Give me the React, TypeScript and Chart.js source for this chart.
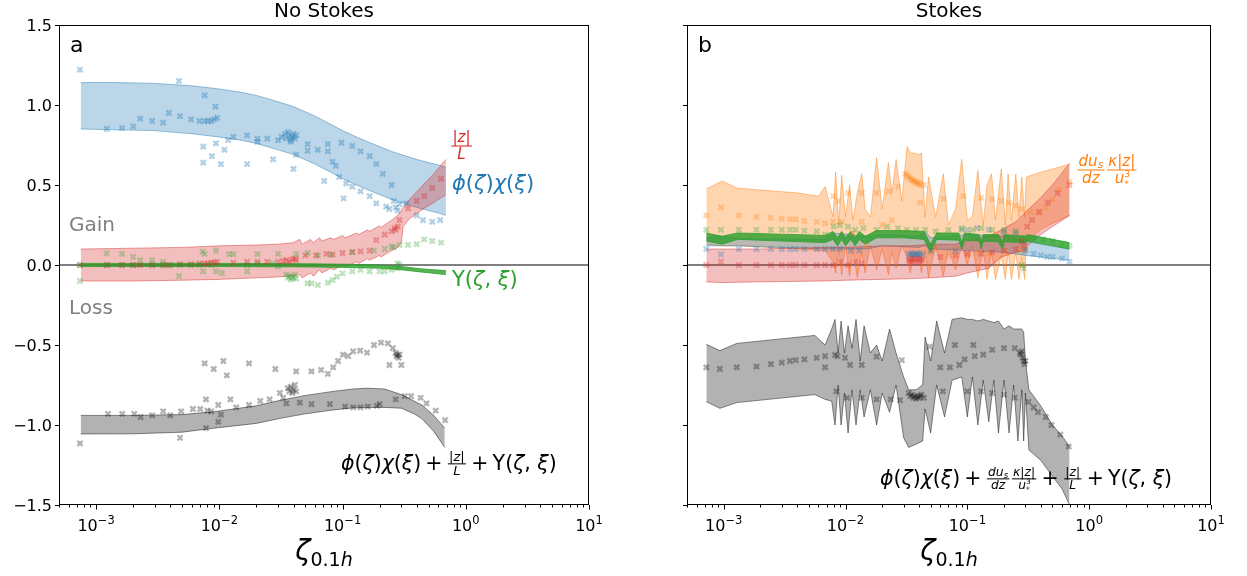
import React, { useEffect, useRef } from "react";
import { Chart, registerables } from "chart.js";
Chart.register(...registerables);

type Pt = [number, number];
type Bd = [number, number, number]; // x, lower, upper

// ---------------- axes ----------------
const xMin = 5e-4;
const xMax = 10;
const yMin = -1.5;
const yMax = 1.5;
const yTickVals = [-1.5, -1.0, -0.5, 0.0, 0.5, 1.0, 1.5];
const yTickText = ["−1.5", "−1.0", "−0.5", "0.0", "0.5", "1.0", "1.5"];
const xTickExp = [-3, -2, -1, 0, 1];
const xTickSup = ["−3", "−2", "−1", "0", "1"];
const panelTitles = ["No Stokes", "Stokes"];
const panelLetters = ["a", "b"];

// ---------------- panel a: bands ----------------
const aBlueBand: Bd[] = [
  [7.5e-4, 0.85, 1.14], [1.5e-3, 0.845, 1.14], [3e-3, 0.84, 1.135], [6e-3, 0.82, 1.12],
  [0.01, 0.8, 1.1], [0.015, 0.78, 1.08], [0.02, 0.76, 1.06], [0.03, 0.72, 1.02],
  [0.04, 0.69, 0.99], [0.06, 0.63, 0.93], [0.08, 0.58, 0.88], [0.1, 0.54, 0.84],
  [0.13, 0.5, 0.8], [0.16, 0.47, 0.77], [0.2, 0.44, 0.74], [0.25, 0.41, 0.71],
  [0.3, 0.39, 0.69], [0.4, 0.36, 0.66], [0.5, 0.34, 0.64], [0.6, 0.325, 0.625], [0.69, 0.31, 0.61],
];
const aRedBand: Bd[] = [
  [7.5e-4, -0.1, 0.1], [2e-3, -0.1, 0.105], [5e-3, -0.095, 0.11], [0.01, -0.09, 0.12],
  [0.02, -0.08, 0.125], [0.03, -0.075, 0.13], [0.04, -0.065, 0.14], [0.045, -0.06, 0.16],
  [0.047, -0.08, 0.13], [0.055, -0.05, 0.16], [0.058, -0.07, 0.14], [0.065, -0.03, 0.17],
  [0.068, -0.05, 0.15], [0.08, -0.02, 0.17], [0.085, -0.03, 0.16], [0.1, 0.0, 0.185],
  [0.105, -0.01, 0.17], [0.13, 0.02, 0.2], [0.135, 0.01, 0.19], [0.16, 0.04, 0.22],
  [0.165, 0.03, 0.21], [0.2, 0.06, 0.245], [0.205, 0.05, 0.235], [0.25, 0.09, 0.28],
  [0.28, 0.11, 0.31], [0.3, 0.14, 0.34], [0.31, 0.24, 0.36], [0.35, 0.29, 0.41],
  [0.45, 0.35, 0.5], [0.55, 0.39, 0.57], [0.69, 0.44, 0.66],
];
const aGreenBand: Bd[] = [
  [7.5e-4, -0.01, 0.01], [0.01, -0.01, 0.01], [0.05, -0.012, 0.008], [0.1, -0.015, 0.005],
  [0.2, -0.02, 0.0], [0.3, -0.03, -0.01], [0.45, -0.045, -0.025], [0.69, -0.06, -0.035],
];
const aGrayBand: Bd[] = [
  [7.5e-4, -1.056, -0.94], [2e-3, -1.055, -0.94], [5e-3, -1.045, -0.935], [0.009, -1.02, -0.917],
  [0.02, -0.99, -0.88], [0.032, -0.957, -0.844], [0.05, -0.93, -0.815], [0.084, -0.906, -0.79],
  [0.12, -0.893, -0.775], [0.158, -0.89, -0.77], [0.22, -0.89, -0.775], [0.3, -0.895, -0.81],
  [0.38, -0.93, -0.85], [0.44, -0.96, -0.875], [0.55, -1.04, -0.94], [0.675, -1.14, -1.02],
];

// ---------------- panel a: points ----------------
const aBluePts: Pt[] = [
  [7.4e-4, 1.22], [1.22e-3, 0.85], [1.62e-3, 0.856], [2.0e-3, 0.867], [2.28e-3, 0.915], [2.85e-3, 0.9],
  [3.5e-3, 0.89], [3.9e-3, 0.95], [4.7e-3, 1.15], [4.8e-3, 0.93], [5.9e-3, 0.91], [6.9e-3, 0.9],
  [7.4e-3, 0.74], [7.4e-3, 0.64], [7.6e-3, 1.06], [7.6e-3, 0.9], [8.1e-3, 0.9], [8.6e-3, 0.9],
  [9.1e-3, 0.91], [9.6e-3, 0.92], [9.3e-3, 0.99], [8.7e-3, 0.68], [9.4e-3, 0.76], [0.0103, 0.63],
  [0.011, 0.72], [0.0118, 0.78], [0.013, 0.8], [0.0168, 0.81], [0.0168, 0.63], [0.0204, 0.79],
  [0.0204, 0.77], [0.0245, 0.79], [0.0273, 0.66], [0.03, 0.78], [0.032, 0.8], [0.034, 0.82],
  [0.035, 0.79], [0.036, 0.83], [0.037, 0.81], [0.038, 0.78], [0.039, 0.8], [0.04, 0.82],
  [0.041, 0.79], [0.042, 0.81], [0.038, 0.77], [0.04, 0.6], [0.042, 0.69], [0.052, 0.756],
  [0.052, 0.714], [0.063, 0.72], [0.071, 0.525], [0.076, 0.756], [0.076, 0.71], [0.083, 0.646],
  [0.088, 0.62], [0.094, 0.55], [0.098, 0.764], [0.102, 0.417], [0.107, 0.51], [0.12, 0.744],
  [0.12, 0.49], [0.14, 0.71], [0.14, 0.46], [0.166, 0.68], [0.166, 0.43], [0.188, 0.63],
  [0.188, 0.385], [0.212, 0.57], [0.226, 0.365], [0.25, 0.5], [0.24, 0.35], [0.26, 0.4],
  [0.27, 0.36], [0.28, 0.34], [0.29, 0.38], [0.33, 0.385], [0.4, 0.31], [0.45, 0.28],
  [0.535, 0.27], [0.62, 0.28],
];
const aRedPts: Pt[] = [
  [7.4e-4, 0.0], [1.22e-3, 0.0], [1.62e-3, 0.0], [2.0e-3, 0.0], [2.28e-3, 0.0], [2.85e-3, 0.0],
  [3.5e-3, 0.0], [3.9e-3, 0.0], [4.8e-3, 0.005], [5.9e-3, 0.005], [6.9e-3, 0.01], [7.6e-3, 0.01],
  [8.1e-3, 0.01], [8.6e-3, 0.015], [9.1e-3, 0.015], [9.6e-3, 0.02], [0.013, 0.015], [0.0168, 0.02],
  [0.0204, 0.02], [0.0245, 0.02], [0.03, 0.02], [0.033, 0.025], [0.035, 0.03], [0.037, 0.02],
  [0.039, 0.035], [0.041, 0.04], [0.042, 0.03], [0.05, 0.06], [0.061, 0.06], [0.074, 0.07],
  [0.083, 0.065], [0.1, 0.075], [0.12, 0.08], [0.14, 0.085], [0.166, 0.09], [0.188, 0.156],
  [0.22, 0.19], [0.25, 0.21], [0.264, 0.23], [0.27, 0.22], [0.28, 0.24], [0.29, 0.28],
  [0.34, 0.354], [0.4, 0.4], [0.46, 0.43], [0.535, 0.48], [0.63, 0.54],
];
const aGreenPts: Pt[] = [
  [7.4e-4, -0.1], [7.4e-4, 0.0], [1.22e-3, 0.073], [1.22e-3, 0.0], [1.62e-3, 0.07], [1.62e-3, 0.0],
  [2.0e-3, 0.05], [2.0e-3, 0.0], [2.28e-3, 0.03], [2.85e-3, 0.03], [2.85e-3, 0.0], [3.5e-3, 0.02],
  [3.5e-3, 0.0], [4.0e-3, 0.0], [4.7e-3, -0.07], [4.8e-3, 0.0], [5.9e-3, 0.0], [6.9e-3, 0.0],
  [7.3e-3, 0.083], [7.4e-3, -0.04], [7.6e-3, 0.07], [8.6e-3, 0.0], [9.4e-3, 0.09], [9.4e-3, -0.04],
  [0.0105, -0.05], [0.012, 0.068], [0.013, 0.068], [0.0168, -0.04], [0.0168, 0.0], [0.0204, 0.068],
  [0.0204, 0.01], [0.027, 0.01], [0.03, 0.07], [0.03, -0.01], [0.035, -0.06], [0.036, -0.08],
  [0.037, -0.07], [0.038, -0.09], [0.039, -0.075], [0.04, -0.08], [0.041, -0.06], [0.042, -0.085],
  [0.042, 0.068], [0.052, 0.075], [0.052, -0.115], [0.056, -0.115], [0.063, -0.125], [0.063, 0.06],
  [0.076, -0.11], [0.08, 0.065], [0.083, -0.094], [0.09, -0.073], [0.1, -0.052], [0.12, -0.04],
  [0.12, 0.08], [0.14, -0.03], [0.166, -0.04], [0.18, 0.09], [0.2, -0.04], [0.22, -0.04],
  [0.22, 0.1], [0.25, -0.03], [0.25, 0.115], [0.26, 0.11], [0.28, 0.01], [0.28, -0.02],
  [0.29, 0.0], [0.29, 0.125], [0.34, 0.125], [0.4, 0.13], [0.46, 0.16], [0.535, 0.15], [0.63, 0.14],
];
const aBlackPts: Pt[] = [
  [7.4e-4, -1.115], [1.25e-3, -0.93], [1.63e-3, -0.93], [2.04e-3, -0.93], [2.3e-3, -0.95], [2.85e-3, -0.94],
  [3.5e-3, -0.915], [4.0e-3, -0.94], [4.8e-3, -1.08], [4.9e-3, -0.915], [6.1e-3, -0.9], [7.0e-3, -0.9],
  [7.6e-3, -0.615], [7.8e-3, -0.84], [7.8e-3, -1.02], [8.0e-3, -0.91], [8.6e-3, -0.915], [9.0e-3, -0.65],
  [9.8e-3, -0.98], [9.8e-3, -0.875], [0.0103, -0.935], [0.0108, -0.6], [0.0115, -0.69], [0.0123, -0.84],
  [0.0137, -0.89], [0.0174, -0.615], [0.0174, -0.875], [0.0215, -0.85], [0.0256, -0.84], [0.0285, -0.65],
  [0.031, -0.8], [0.033, -0.83], [0.035, -0.865], [0.036, -0.77], [0.037, -0.79], [0.038, -0.76],
  [0.039, -0.8], [0.04, -0.78], [0.041, -0.75], [0.042, -0.79], [0.042, -0.665], [0.045, -0.86],
  [0.056, -0.665], [0.056, -0.87], [0.067, -0.656], [0.076, -0.68], [0.079, -0.87], [0.084, -0.64],
  [0.092, -0.6], [0.101, -0.56], [0.105, -0.885], [0.111, -0.57], [0.122, -0.54], [0.139, -0.535],
  [0.158, -0.548], [0.122, -0.89], [0.14, -0.89], [0.16, -0.885], [0.19, -0.88], [0.18, -0.5],
  [0.205, -0.485], [0.233, -0.49], [0.256, -0.52], [0.2, -0.87], [0.27, -0.84], [0.279, -0.56],
  [0.27, -0.55], [0.275, -0.57], [0.285, -0.58], [0.29, -0.56], [0.24, -0.625], [0.3, -0.625],
  [0.32, -0.82], [0.36, -0.82], [0.43, -0.83], [0.48, -0.865], [0.57, -0.91], [0.68, -0.97],
];

// ---------------- panel b: bands ----------------
const bOrangeBand: Bd[] = [
  [7.2e-4, 0.13, 0.475], [9.7e-4, 0.12, 0.525], [1.3e-3, 0.12, 0.48], [4.1e-3, 0.1, 0.45],
  [6.0e-3, 0.09, 0.43], [6.8e-3, 0.09, 0.49], [7.9e-3, 0.02, 0.3], [8.3e-3, -0.05, 0.58],
  [8.8e-3, 0.1, 0.25], [9.3e-3, -0.06, 0.56], [0.01, 0.12, 0.3], [0.0108, -0.07, 0.5],
  [0.0115, 0.1, 0.28], [0.0125, -0.08, 0.45], [0.0136, 0.08, 0.57], [0.0145, -0.05, 0.35],
  [0.016, 0.12, 0.3], [0.018, -0.03, 0.67], [0.02, 0.1, 0.35], [0.0225, -0.06, 0.64],
  [0.024, 0.08, 0.45], [0.026, -0.02, 0.66], [0.029, 0.12, 0.4], [0.032, 0.05, 0.74],
  [0.034, -0.05, 0.7], [0.036, 0.05, 0.7], [0.04, 0.06, 0.69], [0.042, -0.05, 0.7],
  [0.045, 0.1, 0.3], [0.048, -0.08, 0.55], [0.055, 0.12, 0.3], [0.0635, -0.07, 0.57],
  [0.07, 0.1, 0.25], [0.08, -0.03, 0.35], [0.09, 0.12, 0.66], [0.1, 0.0, 0.28],
  [0.11, 0.12, 0.3], [0.122, -0.08, 0.59], [0.135, 0.1, 0.25], [0.145, -0.09, 0.5],
  [0.158, 0.08, 0.57], [0.17, -0.09, 0.28], [0.19, 0.06, 0.6], [0.205, -0.09, 0.25],
  [0.216, 0.08, 0.57], [0.23, -0.09, 0.28], [0.25, 0.08, 0.57], [0.265, -0.09, 0.3],
  [0.28, 0.05, 0.55], [0.295, -0.09, 0.3], [0.305, 0.15, 0.55], [0.4, 0.22, 0.58],
  [0.5, 0.26, 0.6], [0.69, 0.31, 0.63],
];
const bBlueBand: Bd[] = [
  [7.2e-4, 0.12, 0.17], [9.7e-4, 0.12, 0.18], [1.3e-3, 0.12, 0.165], [6.8e-3, 0.1, 0.16],
  [0.008, 0.1, 0.2], [0.015, 0.1, 0.18], [0.02, 0.12, 0.19], [0.04, 0.11, 0.18],
  [0.045, 0.12, 0.21], [0.05, 0.1, 0.17], [0.1, 0.09, 0.19], [0.2, 0.08, 0.18],
  [0.3, 0.06, 0.15], [0.4, 0.05, 0.13], [0.69, 0.03, 0.1],
];
const bRedBand: Bd[] = [
  [7.2e-4, -0.105, 0.1], [9.7e-4, -0.11, 0.1], [2e-3, -0.105, 0.1], [6.8e-3, -0.1, 0.11],
  [0.01, -0.095, 0.11], [0.02, -0.09, 0.12], [0.035, -0.085, 0.12], [0.05, -0.08, 0.13],
  [0.08, -0.07, 0.13], [0.1, -0.05, 0.15], [0.15, -0.02, 0.18], [0.19, 0.05, 0.22],
  [0.25, 0.08, 0.27], [0.3, 0.09, 0.33], [0.31, 0.12, 0.34], [0.4, 0.19, 0.42],
  [0.5, 0.24, 0.5], [0.69, 0.31, 0.635],
];
const bGreenBand: Bd[] = [
  [7.2e-4, 0.15, 0.2], [9.7e-4, 0.13, 0.18], [1.3e-3, 0.16, 0.2], [6.8e-3, 0.14, 0.185],
  [7.9e-3, 0.16, 0.21], [8.6e-3, 0.12, 0.17], [9.3e-3, 0.16, 0.21], [0.01, 0.12, 0.17],
  [0.011, 0.16, 0.21], [0.012, 0.12, 0.17], [0.013, 0.16, 0.21], [0.0145, 0.13, 0.18],
  [0.018, 0.17, 0.215], [0.03, 0.17, 0.215], [0.044, 0.16, 0.21], [0.05, 0.08, 0.13],
  [0.056, 0.16, 0.2], [0.085, 0.155, 0.2], [0.09, 0.1, 0.14], [0.095, 0.155, 0.2],
  [0.125, 0.15, 0.19], [0.13, 0.1, 0.14], [0.135, 0.15, 0.19], [0.18, 0.145, 0.19],
  [0.195, 0.1, 0.14], [0.2, 0.145, 0.19], [0.3, 0.14, 0.18], [0.31, 0.15, 0.19], [0.69, 0.1, 0.14],
];
const bGrayBand: Bd[] = [
  [7.2e-4, -0.854, -0.496], [9.3e-4, -0.896, -0.535], [1.28e-3, -0.86, -0.49], [5.6e-3, -0.81, -0.44],
  [6.8e-3, -0.84, -0.5], [7.7e-3, -0.85, -0.4], [8.2e-3, -1.0, -0.34], [8.7e-3, -0.75, -0.55],
  [9.2e-3, -1.0, -0.35], [0.0098, -0.8, -0.55], [0.0105, -1.05, -0.38], [0.0113, -0.78, -0.52],
  [0.0122, -1.0, -0.34], [0.0132, -0.78, -0.6], [0.0142, -0.95, -0.38], [0.016, -0.78, -0.55],
  [0.018, -1.0, -0.5], [0.02, -0.8, -0.6], [0.023, -0.92, -0.4], [0.026, -0.75, -0.55],
  [0.03, -1.08, -0.7], [0.033, -1.14, -0.78], [0.038, -1.12, -0.78], [0.043, -1.1, -0.75],
  [0.045, -0.9, -0.45], [0.05, -1.05, -0.6], [0.056, -0.75, -0.35], [0.065, -0.95, -0.55],
  [0.075, -0.72, -0.34], [0.09, -0.7, -0.33], [0.1, -0.95, -0.34], [0.11, -0.7, -0.34],
  [0.122, -1.0, -0.35], [0.135, -0.72, -0.34], [0.15, -0.98, -0.35], [0.165, -0.72, -0.36],
  [0.18, -1.05, -0.35], [0.2, -0.72, -0.4], [0.22, -1.05, -0.38], [0.24, -0.75, -0.4],
  [0.26, -1.1, -0.4], [0.28, -0.78, -0.4], [0.29, -1.1, -0.42], [0.3, -0.8, -0.6],
  [0.32, -1.156, -0.78], [0.4, -1.22, -0.88], [0.5, -1.32, -1.0], [0.6, -1.4, -1.07], [0.69, -1.5, -1.135],
];

// ---------------- panel b: points ----------------
const bOrangePts: Pt[] = [
  [7.2e-4, 0.31], [9.5e-4, 0.36], [1.33e-3, 0.31], [1.86e-3, 0.3], [2.44e-3, 0.295], [3.0e-3, 0.29],
  [3.5e-3, 0.285], [3.9e-3, 0.285], [4.6e-3, 0.275], [5.8e-3, 0.27], [6.8e-3, 0.26], [7.9e-3, 0.43],
  [7.9e-3, 0.27], [8.7e-3, 0.4], [9.3e-3, 0.27], [0.0105, 0.45], [0.0115, 0.2], [0.0136, 0.45],
  [0.0136, 0.27], [0.015, 0.12], [0.018, 0.45], [0.02, 0.25], [0.0225, 0.46], [0.024, 0.28],
  [0.027, 0.49], [0.031, 0.57], [0.032, 0.56], [0.033, 0.55], [0.034, 0.54], [0.035, 0.53],
  [0.036, 0.53], [0.037, 0.52], [0.038, 0.52], [0.039, 0.51], [0.04, 0.51], [0.041, 0.5],
  [0.041, 0.39], [0.044, 0.5], [0.05, 0.08], [0.055, 0.1], [0.064, 0.415], [0.07, 0.06],
  [0.08, 0.1], [0.093, 0.43], [0.1, 0.06], [0.12, 0.08], [0.13, 0.42], [0.15, 0.07],
  [0.16, 0.41], [0.19, 0.4], [0.2, 0.08], [0.22, 0.39], [0.25, 0.37], [0.27, 0.1],
  [0.28, 0.35], [0.3, 0.1], [0.33, 0.33], [0.38, 0.33], [0.44, 0.36], [0.5, 0.41],
  [0.57, 0.47], [0.69, 0.52],
];
const bBluePts: Pt[] = [
  [7.2e-4, 0.1], [9.5e-4, 0.067], [1.33e-3, 0.1], [1.86e-3, 0.1], [2.44e-3, 0.1], [3.0e-3, 0.1],
  [3.5e-3, 0.1], [3.9e-3, 0.1], [4.6e-3, 0.1], [5.8e-3, 0.1], [6.8e-3, 0.1], [7.9e-3, 0.1],
  [9.0e-3, 0.1], [0.011, 0.09], [0.013, 0.09], [0.033, 0.07], [0.034, 0.06], [0.035, 0.075],
  [0.036, 0.06], [0.037, 0.07], [0.038, 0.065], [0.039, 0.07], [0.04, 0.06], [0.041, 0.075],
  [0.043, 0.065], [0.05, 0.09], [0.08, 0.09], [0.09, 0.22], [0.1, 0.22], [0.12, 0.23],
  [0.15, 0.22], [0.2, 0.21], [0.25, 0.2], [0.3, 0.09], [0.35, 0.07], [0.4, 0.06],
  [0.45, 0.05], [0.5, 0.05], [0.6, 0.04], [0.69, 0.02],
];
const bRedPts: Pt[] = [
  [7.2e-4, 0.0], [9.5e-4, 0.02], [1.33e-3, 0.0], [1.86e-3, 0.0], [2.44e-3, 0.0], [3.0e-3, 0.0],
  [3.5e-3, 0.0], [3.9e-3, 0.0], [4.6e-3, 0.0], [5.8e-3, 0.0], [6.8e-3, 0.0], [7.9e-3, 0.0],
  [9.0e-3, 0.02], [0.0105, 0.0], [0.012, 0.02], [0.0136, 0.01], [0.033, 0.03], [0.034, 0.02],
  [0.035, 0.04], [0.036, 0.02], [0.037, 0.035], [0.038, 0.025], [0.039, 0.04], [0.04, 0.02],
  [0.041, 0.035], [0.043, 0.03], [0.06, 0.05], [0.08, 0.06], [0.1, 0.07], [0.13, 0.07],
  [0.16, 0.08], [0.2, 0.09], [0.25, 0.1], [0.28, 0.15], [0.29, 0.12], [0.31, 0.24],
  [0.34, 0.28], [0.39, 0.33], [0.46, 0.39], [0.55, 0.45], [0.69, 0.5],
];
const bGreenPts: Pt[] = [
  [7.2e-4, 0.22], [9.5e-4, 0.22], [1.33e-3, 0.22], [1.86e-3, 0.22], [2.44e-3, 0.22], [3.0e-3, 0.22],
  [3.5e-3, 0.22], [3.9e-3, 0.22], [4.6e-3, 0.215], [5.8e-3, 0.21], [6.8e-3, 0.19], [8.0e-3, 0.24],
  [9.0e-3, 0.25], [0.0105, 0.24], [0.012, 0.22], [0.014, 0.23], [0.018, 0.22], [0.022, 0.24],
  [0.027, 0.23], [0.032, 0.22], [0.038, 0.22], [0.045, 0.22], [0.055, 0.21], [0.07, 0.22],
  [0.09, 0.23], [0.11, 0.22], [0.13, 0.23], [0.16, 0.22], [0.2, 0.22], [0.25, 0.21],
  [0.28, 0.0], [0.29, -0.02], [0.3, 0.17], [0.35, 0.17], [0.42, 0.16], [0.5, 0.15],
  [0.6, 0.13], [0.69, 0.12],
];
const bBlackPts: Pt[] = [
  [7.2e-4, -0.64], [9.3e-4, -0.65], [1.28e-3, -0.64], [1.86e-3, -0.635], [2.44e-3, -0.62], [3.0e-3, -0.61],
  [3.5e-3, -0.6], [3.9e-3, -0.595], [4.6e-3, -0.59], [5.8e-3, -0.58], [6.8e-3, -0.57], [6.8e-3, -0.64],
  [8.2e-3, -0.5625], [8.6e-3, -0.57], [9.9e-3, -0.58], [0.0109, -0.625], [0.0136, -0.625], [0.018, -0.573],
  [0.029, -0.594], [0.049, -0.51], [0.06, -0.64], [0.072, -0.64], [0.079, -0.5], [0.086, -0.625],
  [0.095, -0.59], [0.112, -0.5], [0.115, -0.57], [0.135, -0.56], [0.16, -0.53], [0.2, -0.52],
  [0.245, -0.52], [0.27, -0.55], [0.275, -0.56], [0.28, -0.54], [0.285, -0.58], [0.29, -0.6],
  [0.295, -0.62], [0.3, -0.6], [8.4e-3, -0.79], [0.0103, -0.83], [0.0136, -0.83], [0.018, -0.84],
  [0.0235, -0.84], [0.028, -0.845], [0.033, -0.8], [0.034, -0.82], [0.035, -0.81], [0.036, -0.83],
  [0.037, -0.82], [0.038, -0.835], [0.039, -0.82], [0.04, -0.83], [0.041, -0.82], [0.042, -0.81],
  [0.044, -0.83], [0.063, -0.79], [0.1, -0.79], [0.13, -0.79], [0.16, -0.8], [0.2, -0.81],
  [0.245, -0.83], [0.317, -0.855], [0.35, -0.89], [0.38, -0.92], [0.44, -0.95], [0.49, -1.0],
  [0.58, -1.06], [0.68, -1.135],
];

// ---------------- colours ----------------
const cBlue = [31, 119, 180];
const cOrange = [255, 127, 14];
const cGreen = [44, 160, 44];
const cRed = [214, 39, 40];
const cBlack = [0, 0, 0];
const rgba = (c: number[], a: number) => `rgba(${c[0]},${c[1]},${c[2]},${a})`;

// ---------------- math text helpers ----------------
const FAM = '"DejaVu Sans", sans-serif';
const fnt = (sz: number, it = false) => `${it ? "italic " : ""}${sz}px ${FAM}`;
type TP = { t: string; it?: boolean; k?: number; dy?: number; na?: boolean; m?: number };
type FP = { num: TP[]; den: TP[] };
type P = TP | FP;

function runW(ctx: CanvasRenderingContext2D, run: TP[], sz: number) {
  let w = 0;
  for (const p of run) {
    const s = sz * (p.k ?? 1);
    ctx.font = fnt(s, p.it);
    if (!p.na) w += ctx.measureText(p.t).width + 2 * (p.m ?? 0) * s;
  }
  return w;
}
function runDraw(ctx: CanvasRenderingContext2D, run: TP[], x: number, y: number, sz: number) {
  let cx = x;
  for (const p of run) {
    const s = sz * (p.k ?? 1);
    ctx.font = fnt(s, p.it);
    const m = (p.m ?? 0) * s;
    ctx.fillText(p.t, cx + m, y + (p.dy ?? 0) * sz);
    if (!p.na) cx += ctx.measureText(p.t).width + 2 * m;
  }
}
function mathW(ctx: CanvasRenderingContext2D, ps: P[], sz: number, fk: number) {
  let w = 0;
  for (const p of ps) {
    if ("num" in p) {
      const fs = sz * fk;
      w += Math.max(runW(ctx, p.num, fs), runW(ctx, p.den, fs)) + sz * 0.24;
    } else w += runW(ctx, [p], sz);
  }
  return w;
}
function drawMath(ctx: CanvasRenderingContext2D, ps: P[], x: number, y: number, sz: number, color: string, fk = 0.7, align = "left") {
  ctx.save();
  ctx.fillStyle = color;
  ctx.strokeStyle = color;
  ctx.textAlign = "left";
  ctx.textBaseline = "alphabetic";
  let cx = align === "center" ? x - mathW(ctx, ps, sz, fk) / 2 : x;
  for (const p of ps) {
    if ("num" in p) {
      const fs = sz * fk;
      const wn = runW(ctx, p.num, fs);
      const wd = runW(ctx, p.den, fs);
      const w = Math.max(wn, wd);
      const pad = sz * 0.12;
      const axis = y - sz * 0.3;
      runDraw(ctx, p.num, cx + pad + (w - wn) / 2, axis - fs * 0.25, fs);
      runDraw(ctx, p.den, cx + pad + (w - wd) / 2, axis + fs * 0.85, fs);
      ctx.lineWidth = Math.max(1, sz * 0.05);
      ctx.beginPath();
      ctx.moveTo(cx + pad * 0.5, axis);
      ctx.lineTo(cx + pad * 1.5 + w, axis);
      ctx.stroke();
      cx += w + pad * 2;
    } else {
      runDraw(ctx, [p], cx, y, sz);
      cx += runW(ctx, [p], sz);
    }
  }
  ctx.restore();
}

const lblPhiChi: P[] = [
  { t: "ϕ", it: true }, { t: "(" }, { t: "ζ", it: true }, { t: ")" },
  { t: "χ", it: true }, { t: "(" }, { t: "ξ", it: true }, { t: ")" },
];
const lblZL: FP = { num: [{ t: "|" }, { t: "z", it: true }, { t: "|" }], den: [{ t: "L", it: true }] };
const lblUps: P[] = [{ t: "Υ(" }, { t: "ζ", it: true }, { t: ", " }, { t: "ξ", it: true }, { t: ")" }];
const lblStokes: P[] = [
  { num: [{ t: "du", it: true }, { t: "s", it: true, k: 0.7, dy: 0.15 }], den: [{ t: "dz", it: true }] },
  {
    num: [{ t: "κ", it: true }, { t: "|" }, { t: "z", it: true }, { t: "|" }],
    den: [{ t: "u", it: true }, { t: "3", k: 0.6, dy: -0.4, na: true }, { t: "*", k: 0.6, dy: 0.25 }],
  },
];
const plus: TP = { t: "+", m: 0.2 };
const lblSumA: P[] = [...lblPhiChi, plus, lblZL, plus, ...lblUps];
const lblSumB: P[] = [...lblPhiChi, plus, ...lblStokes, plus, lblZL, plus, ...lblUps];

// ---------------- chart building ----------------
function buildDatasets(bands: { d: Bd[]; c: number[]; fa: number; ea: number }[], pts: { d: Pt[]; c: number[]; a: number }[]) {
  const ds: any[] = [];
  for (const b of bands) {
    ds.push({
      data: b.d.map((r) => ({ x: r[0], y: r[1] })),
      borderColor: rgba(b.c, b.ea), borderWidth: 1, pointRadius: 0, fill: false, tension: 0,
    });
    ds.push({
      data: b.d.map((r) => ({ x: r[0], y: r[2] })),
      borderColor: rgba(b.c, b.ea), borderWidth: 1, pointRadius: 0, fill: "-1",
      backgroundColor: rgba(b.c, b.fa), tension: 0,
    });
  }
  for (const p of pts) {
    ds.push({
      data: p.d.map((r) => ({ x: r[0], y: r[1] })),
      showLine: false, fill: false, pointStyle: "crossRot", pointRadius: 3.6, pointBorderWidth: 2.4,
      pointBorderColor: rgba(p.c, p.a), borderColor: rgba(p.c, p.a), pointBackgroundColor: "rgba(0,0,0,0)",
    });
  }
  ds.forEach((d, k) => (d.order = ds.length - k));
  return ds;
}

function decoPlugin(panel: number, offX: number) {
  return {
    id: "deco" + panel,
    beforeDatasetsDraw(chart: any) {
      const { ctx, chartArea: a, scales } = chart;
      const y0 = scales.y.getPixelForValue(0);
      ctx.save();
      ctx.strokeStyle = "#808080";
      ctx.lineWidth = 2;
      ctx.beginPath();
      ctx.moveTo(a.left, y0);
      ctx.lineTo(a.right, y0);
      ctx.stroke();
      ctx.restore();
    },
    afterDraw(chart: any) {
      const { ctx, chartArea: a } = chart;
      const xs = chart.scales.x;
      const ys = chart.scales.y;
      ctx.save();
      ctx.strokeStyle = "#000";
      ctx.lineWidth = 1;
      ctx.strokeRect(Math.round(a.left) + 0.5, Math.round(a.top) + 0.5, Math.round(a.right - a.left) - 1, Math.round(a.bottom - a.top) - 1);
      const seg = (x1: number, y1: number, x2: number, y2: number) => {
        ctx.beginPath(); ctx.moveTo(x1, y1); ctx.lineTo(x2, y2); ctx.stroke();
      };
      // y ticks
      ctx.fillStyle = "#000";
      ctx.font = fnt(16);
      ctx.textAlign = "right";
      ctx.textBaseline = "middle";
      yTickVals.forEach((v, i) => {
        const py = Math.round(ys.getPixelForValue(v)) + 0.5;
        seg(a.left - 4, py, a.left, py);
        if (panel === 0) ctx.fillText(yTickText[i], a.left - 7, py + 1);
      });
      // x ticks
      for (let e = -4; e <= 1; e++) {
        for (let k = 1; k <= 9; k++) {
          const v = k * Math.pow(10, e);
          if (v < xMin * 0.999 || v > xMax * 1.001) continue;
          const px = Math.round(xs.getPixelForValue(v)) + 0.5;
          seg(px, a.bottom, px, a.bottom + (k === 1 ? 4.5 : 2.5));
        }
      }
      ctx.textAlign = "left";
      ctx.textBaseline = "alphabetic";
      xTickExp.forEach((e, i) => {
        const px = xs.getPixelForValue(Math.pow(10, e));
        ctx.font = fnt(16);
        const w1 = ctx.measureText("10").width;
        ctx.font = fnt(11.5);
        const w2 = ctx.measureText(xTickSup[i]).width;
        const x0 = px - (w1 + w2) / 2;
        ctx.font = fnt(16);
        ctx.fillText("10", x0, a.bottom + 26);
        ctx.font = fnt(11.5);
        ctx.fillText(xTickSup[i], x0 + w1, a.bottom + 19);
      });
      // title
      const cx = (a.left + a.right) / 2;
      ctx.font = fnt(20);
      ctx.textAlign = "center";
      ctx.fillText(panelTitles[panel], cx, 17);
      // axis title
      drawMath(ctx, [{ t: "ζ", it: true }, { t: "0.1", k: 0.68, dy: 0.22 }, { t: "h", it: true, k: 0.68, dy: 0.22 }], cx, 560, 28, "#000", 0.7, "center");
      // panel letter
      ctx.font = fnt(22);
      ctx.textAlign = "left";
      ctx.fillStyle = "#000";
      ctx.fillText(panelLetters[panel], 70 - offX + (panel === 1 ? 628 : 0), 52);
      if (panel === 0) {
        ctx.font = fnt(20);
        ctx.fillStyle = "#808080";
        ctx.fillText("Gain", 69, 231);
        ctx.fillText("Loss", 69, 314);
        drawMath(ctx, [lblZL], 450, 146 + 0.3 * 21, 21, "#d62728", 0.72);
        drawMath(ctx, lblPhiChi, 452, 190, 21, "#1f77b4");
        drawMath(ctx, lblUps, 452, 286, 21, "#2ca02c");
        drawMath(ctx, lblSumA, 341, 470, 20.5, "#000", 0.64);
      } else {
        drawMath(ctx, lblStokes, 1076 - offX, 170 + 0.3 * 21, 21, "#ff7f0e", 0.72);
        drawMath(ctx, lblSumB, 880 - offX, 485, 20.5, "#000", 0.6);
      }
      ctx.restore();
    },
  };
}

function Panel(props: { panel: number; left: number; width: number; padL: number; padR: number }) {
  const ref = useRef<HTMLCanvasElement>(null);
  useEffect(() => {
    const { panel } = props;
    const datasets =
      panel === 0
        ? buildDatasets(
            [
              { d: aBlueBand, c: cBlue, fa: 0.3, ea: 0.45 },
              { d: aRedBand, c: cRed, fa: 0.3, ea: 0.45 },
              { d: aGreenBand, c: cGreen, fa: 0.8, ea: 0.8 },
              { d: aGrayBand, c: cBlack, fa: 0.3, ea: 0.45 },
            ],
            [
              { d: aBluePts, c: cBlue, a: 0.35 },
              { d: aRedPts, c: cRed, a: 0.35 },
              { d: aGreenPts, c: cGreen, a: 0.3 },
              { d: aBlackPts, c: cBlack, a: 0.3 },
            ]
          )
        : buildDatasets(
            [
              { d: bOrangeBand, c: cOrange, fa: 0.33, ea: 0.45 },
              { d: bBlueBand, c: cBlue, fa: 0.3, ea: 0.45 },
              { d: bRedBand, c: cRed, fa: 0.3, ea: 0.45 },
              { d: bGreenBand, c: cGreen, fa: 0.8, ea: 0.8 },
              { d: bGrayBand, c: cBlack, fa: 0.3, ea: 0.45 },
            ],
            [
              { d: bOrangePts, c: cOrange, a: 0.3 },
              { d: bBluePts, c: cBlue, a: 0.3 },
              { d: bRedPts, c: cRed, a: 0.3 },
              { d: bGreenPts, c: cGreen, a: 0.3 },
              { d: bBlackPts, c: cBlack, a: 0.3 },
            ]
          );
    const chart = new Chart(ref.current as HTMLCanvasElement, {
      type: "line",
      data: { datasets },
      options: {
        animation: false,
        responsive: false,
        devicePixelRatio: 1,
        events: [],
        layout: { padding: { left: props.padL, right: props.padR, top: 25, bottom: 71 } },
        plugins: { legend: { display: false }, tooltip: { enabled: false }, title: { display: false } },
        scales: {
          x: { type: "logarithmic", min: xMin, max: xMax, display: false },
          y: { type: "linear", min: yMin, max: yMax, display: false },
        },
      } as any,
      plugins: [decoPlugin(panel, props.left) as any],
    });
    return () => chart.destroy();
  }, []);
  return (
    <canvas
      ref={ref}
      width={props.width}
      height={576}
      style={{ position: "absolute", left: props.left, top: 0, width: props.width, height: 576 }}
    />
  );
}

export default function App() {
  return (
    <div style={{ position: "fixed", left: 0, top: 0, width: 1247, height: 576, background: "#fff", overflow: "hidden" }}>
      <Panel panel={0} left={0} width={620} padL={59} padR={31} />
      <Panel panel={1} left={620} width={627} padL={67} padR={36} />
    </div>
  );
}
